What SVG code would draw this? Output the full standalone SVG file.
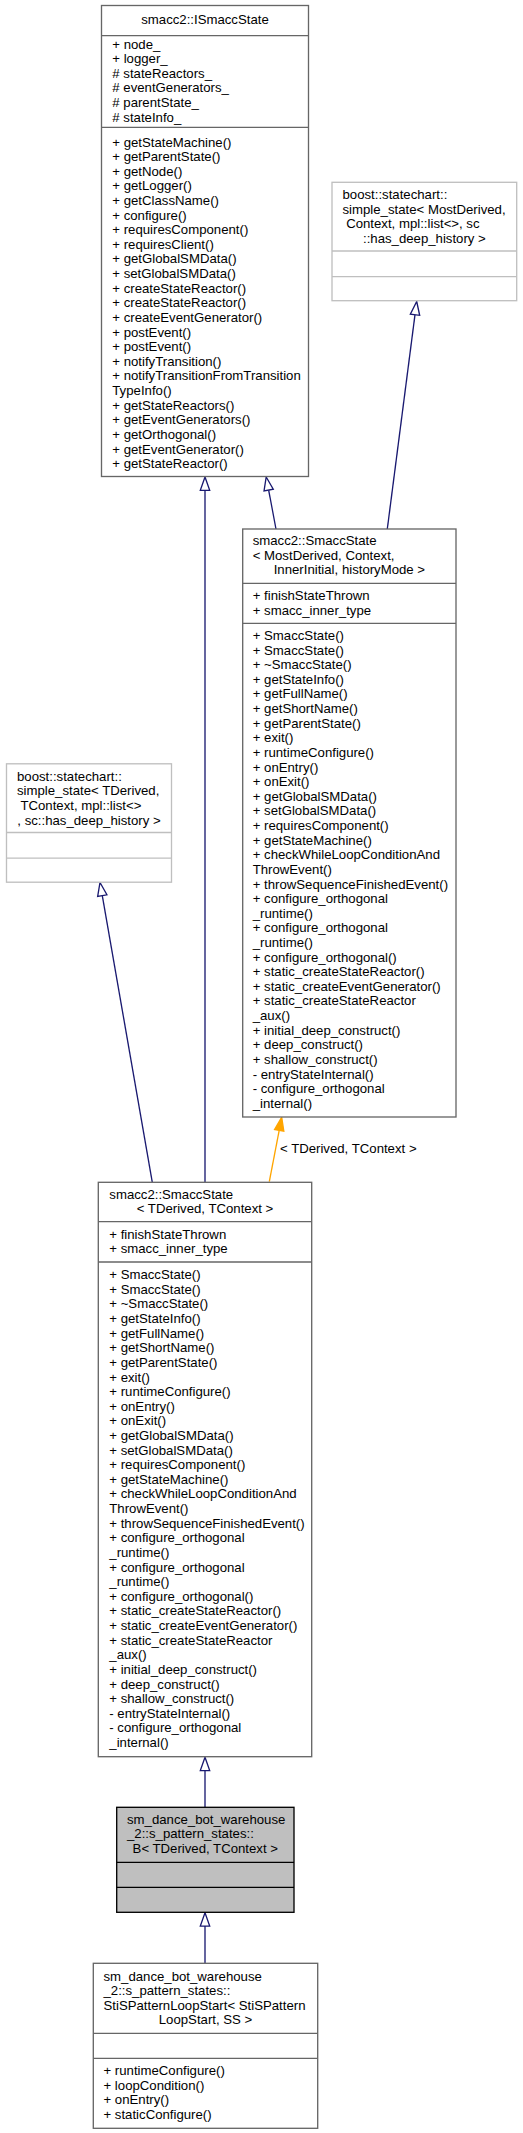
<svg xmlns="http://www.w3.org/2000/svg" width="523" height="2133" viewBox="0 0 523 2133">
<style>
.bx{fill:#ffffff;stroke:#666666;stroke-width:1.33}
.bs{stroke:#666666;stroke-width:1.33}
.ex{fill:#ffffff;stroke:#bfbfbf;stroke-width:1.33}
.es{stroke:#bfbfbf;stroke-width:1.33}
.cur{fill:#bfbfbf;stroke:#000000;stroke-width:1.33}
.cs{stroke:#000000;stroke-width:1.33}
text{font-family:"Liberation Sans",Arial,sans-serif;font-size:13.2px;fill:#000000}
.c{text-anchor:middle}
.e{stroke:#191970;stroke-width:1.33;fill:none}
.h{stroke:#191970;stroke-width:1.33;fill:#ffffff}
.eo{stroke:#ffa500;stroke-width:1.33;fill:none}
.ho{stroke:#ffa500;stroke-width:1.33;fill:#ffa500}
</style>
<g id="connectors">
<line class="e" x1="276" y1="529" x2="268.66" y2="490.07"/>
<polygon class="h" points="266.2,477 273.28,489.2 264.04,490.94"/>
<line class="e" x1="387.3" y1="529" x2="415" y2="314.7"/>
<polygon class="h" points="416.7,301.5 419.66,315.3 410.34,314.1"/>
<line class="e" x1="205" y1="1182.3" x2="205" y2="490.3"/>
<polygon class="h" points="205,477 209.7,490.3 200.3,490.3"/>
<line class="e" x1="152.3" y1="1182.3" x2="102.29" y2="895.6"/>
<polygon class="h" points="100,882.5 106.92,894.79 97.66,896.41"/>
<line class="eo" x1="269.3" y1="1181.7" x2="279.19" y2="1130.36"/>
<polygon class="ho" points="281.7,1117.3 283.81,1131.25 274.57,1129.47"/>
<text x="280" y="1153">&lt; TDerived, TContext &gt;</text>
<line class="e" x1="205" y1="1807.3" x2="205" y2="1770.6"/>
<polygon class="h" points="205,1757.3 209.7,1770.6 200.3,1770.6"/>
<line class="e" x1="205" y1="1963.3" x2="205" y2="1926.1"/>
<polygon class="h" points="205,1912.8 209.7,1926.1 200.3,1926.1"/>
</g>
<g id="ISmaccState">
<rect class="bx" x="101.5" y="5.5" width="207" height="471"/>
<line class="bs" x1="101.5" y1="35.7" x2="308.5" y2="35.7"/>
<line class="bs" x1="101.5" y1="127.3" x2="308.5" y2="127.3"/>
<text class="c" x="205" y="24">smacc2::ISmaccState</text>
<text x="112.3" y="48.5"><tspan x="112.3">+ node_</tspan><tspan x="112.3" dy="14.62">+ logger_</tspan><tspan x="112.3" dy="14.62"># stateReactors_</tspan><tspan x="112.3" dy="14.62"># eventGenerators_</tspan><tspan x="112.3" dy="14.62"># parentState_</tspan><tspan x="112.3" dy="14.62"># stateInfo_</tspan></text>
<text x="112.3" y="146.5"><tspan x="112.3">+ getStateMachine()</tspan><tspan x="112.3" dy="14.62">+ getParentState()</tspan><tspan x="112.3" dy="14.62">+ getNode()</tspan><tspan x="112.3" dy="14.62">+ getLogger()</tspan><tspan x="112.3" dy="14.62">+ getClassName()</tspan><tspan x="112.3" dy="14.62">+ configure()</tspan><tspan x="112.3" dy="14.62">+ requiresComponent()</tspan><tspan x="112.3" dy="14.62">+ requiresClient()</tspan><tspan x="112.3" dy="14.62">+ getGlobalSMData()</tspan><tspan x="112.3" dy="14.62">+ setGlobalSMData()</tspan><tspan x="112.3" dy="14.62">+ createStateReactor()</tspan><tspan x="112.3" dy="14.62">+ createStateReactor()</tspan><tspan x="112.3" dy="14.62">+ createEventGenerator()</tspan><tspan x="112.3" dy="14.62">+ postEvent()</tspan><tspan x="112.3" dy="14.62">+ postEvent()</tspan><tspan x="112.3" dy="14.62">+ notifyTransition()</tspan><tspan x="112.3" dy="14.62">+ notifyTransitionFromTransition</tspan><tspan x="112.3" dy="14.62">TypeInfo()</tspan><tspan x="112.3" dy="14.62">+ getStateReactors()</tspan><tspan x="112.3" dy="14.62">+ getEventGenerators()</tspan><tspan x="112.3" dy="14.62">+ getOrthogonal()</tspan><tspan x="112.3" dy="14.62">+ getEventGenerator()</tspan><tspan x="112.3" dy="14.62">+ getStateReactor()</tspan></text>
</g>
<g id="simple_state_MostDerived">
<rect class="ex" x="332" y="182.3" width="184.7" height="118.4"/>
<line class="es" x1="332" y1="251" x2="516.7" y2="251"/>
<line class="es" x1="332" y1="276.7" x2="516.7" y2="276.7"/>
<text x="342.5" y="199.2"><tspan x="342.5">boost::statechart::</tspan><tspan x="342.5" dy="14.62">simple_state&lt; MostDerived,</tspan><tspan x="342.5" dy="14.62"> Context, mpl::list&lt;&gt;, sc</tspan></text>
<text class="c" x="424.4" y="243">::has_deep_history &gt;</text>
</g>
<g id="SmaccState_MostDerived">
<rect class="bx" x="242.7" y="529" width="213.3" height="588"/>
<line class="bs" x1="242.7" y1="583.3" x2="456" y2="583.3"/>
<line class="bs" x1="242.7" y1="623.3" x2="456" y2="623.3"/>
<text x="252.7" y="545"><tspan x="252.7">smacc2::SmaccState</tspan><tspan x="252.7" dy="14.62">&lt; MostDerived, Context,</tspan></text>
<text class="c" x="349.4" y="574.2">InnerInitial, historyMode &gt;</text>
<text x="252.7" y="600.3"><tspan x="252.7">+ finishStateThrown</tspan><tspan x="252.7" dy="14.62">+ smacc_inner_type</tspan></text>
<text x="252.7" y="640"><tspan x="252.7">+ SmaccState()</tspan><tspan x="252.7" dy="14.62">+ SmaccState()</tspan><tspan x="252.7" dy="14.62">+ ~SmaccState()</tspan><tspan x="252.7" dy="14.62">+ getStateInfo()</tspan><tspan x="252.7" dy="14.62">+ getFullName()</tspan><tspan x="252.7" dy="14.62">+ getShortName()</tspan><tspan x="252.7" dy="14.62">+ getParentState()</tspan><tspan x="252.7" dy="14.62">+ exit()</tspan><tspan x="252.7" dy="14.62">+ runtimeConfigure()</tspan><tspan x="252.7" dy="14.62">+ onEntry()</tspan><tspan x="252.7" dy="14.62">+ onExit()</tspan><tspan x="252.7" dy="14.62">+ getGlobalSMData()</tspan><tspan x="252.7" dy="14.62">+ setGlobalSMData()</tspan><tspan x="252.7" dy="14.62">+ requiresComponent()</tspan><tspan x="252.7" dy="14.62">+ getStateMachine()</tspan><tspan x="252.7" dy="14.62">+ checkWhileLoopConditionAnd</tspan><tspan x="252.7" dy="14.62">ThrowEvent()</tspan><tspan x="252.7" dy="14.62">+ throwSequenceFinishedEvent()</tspan><tspan x="252.7" dy="14.62">+ configure_orthogonal</tspan><tspan x="252.7" dy="14.62">_runtime()</tspan><tspan x="252.7" dy="14.62">+ configure_orthogonal</tspan><tspan x="252.7" dy="14.62">_runtime()</tspan><tspan x="252.7" dy="14.62">+ configure_orthogonal()</tspan><tspan x="252.7" dy="14.62">+ static_createStateReactor()</tspan><tspan x="252.7" dy="14.62">+ static_createEventGenerator()</tspan><tspan x="252.7" dy="14.62">+ static_createStateReactor</tspan><tspan x="252.7" dy="14.62">_aux()</tspan><tspan x="252.7" dy="14.62">+ initial_deep_construct()</tspan><tspan x="252.7" dy="14.62">+ deep_construct()</tspan><tspan x="252.7" dy="14.62">+ shallow_construct()</tspan><tspan x="252.7" dy="14.62">- entryStateInternal()</tspan><tspan x="252.7" dy="14.62">- configure_orthogonal</tspan><tspan x="252.7" dy="14.62">_internal()</tspan></text>
</g>
<g id="simple_state_TDerived">
<rect class="ex" x="6.5" y="763.8" width="165" height="118.4"/>
<line class="es" x1="6.5" y1="832.5" x2="171.5" y2="832.5"/>
<line class="es" x1="6.5" y1="858.2" x2="171.5" y2="858.2"/>
<text x="17" y="780.7"><tspan x="17">boost::statechart::</tspan><tspan x="17" dy="14.62">simple_state&lt; TDerived,</tspan><tspan x="17" dy="14.62"> TContext, mpl::list&lt;&gt;</tspan></text>
<text class="c" x="89" y="824.5">, sc::has_deep_history &gt;</text>
</g>
<g id="SmaccState_TDerived">
<rect class="bx" x="98.3" y="1182.3" width="213.4" height="574.4"/>
<line class="bs" x1="98.3" y1="1221.7" x2="311.7" y2="1221.7"/>
<line class="bs" x1="98.3" y1="1262" x2="311.7" y2="1262"/>
<text x="109.3" y="1198.5">smacc2::SmaccState</text>
<text class="c" x="205" y="1213">&lt; TDerived, TContext &gt;</text>
<text x="109.3" y="1238.5"><tspan x="109.3">+ finishStateThrown</tspan><tspan x="109.3" dy="14.62">+ smacc_inner_type</tspan></text>
<text x="109.3" y="1279.2"><tspan x="109.3">+ SmaccState()</tspan><tspan x="109.3" dy="14.62">+ SmaccState()</tspan><tspan x="109.3" dy="14.62">+ ~SmaccState()</tspan><tspan x="109.3" dy="14.62">+ getStateInfo()</tspan><tspan x="109.3" dy="14.62">+ getFullName()</tspan><tspan x="109.3" dy="14.62">+ getShortName()</tspan><tspan x="109.3" dy="14.62">+ getParentState()</tspan><tspan x="109.3" dy="14.62">+ exit()</tspan><tspan x="109.3" dy="14.62">+ runtimeConfigure()</tspan><tspan x="109.3" dy="14.62">+ onEntry()</tspan><tspan x="109.3" dy="14.62">+ onExit()</tspan><tspan x="109.3" dy="14.62">+ getGlobalSMData()</tspan><tspan x="109.3" dy="14.62">+ setGlobalSMData()</tspan><tspan x="109.3" dy="14.62">+ requiresComponent()</tspan><tspan x="109.3" dy="14.62">+ getStateMachine()</tspan><tspan x="109.3" dy="14.62">+ checkWhileLoopConditionAnd</tspan><tspan x="109.3" dy="14.62">ThrowEvent()</tspan><tspan x="109.3" dy="14.62">+ throwSequenceFinishedEvent()</tspan><tspan x="109.3" dy="14.62">+ configure_orthogonal</tspan><tspan x="109.3" dy="14.62">_runtime()</tspan><tspan x="109.3" dy="14.62">+ configure_orthogonal</tspan><tspan x="109.3" dy="14.62">_runtime()</tspan><tspan x="109.3" dy="14.62">+ configure_orthogonal()</tspan><tspan x="109.3" dy="14.62">+ static_createStateReactor()</tspan><tspan x="109.3" dy="14.62">+ static_createEventGenerator()</tspan><tspan x="109.3" dy="14.62">+ static_createStateReactor</tspan><tspan x="109.3" dy="14.62">_aux()</tspan><tspan x="109.3" dy="14.62">+ initial_deep_construct()</tspan><tspan x="109.3" dy="14.62">+ deep_construct()</tspan><tspan x="109.3" dy="14.62">+ shallow_construct()</tspan><tspan x="109.3" dy="14.62">- entryStateInternal()</tspan><tspan x="109.3" dy="14.62">- configure_orthogonal</tspan><tspan x="109.3" dy="14.62">_internal()</tspan></text>
</g>
<g id="B">
<rect class="cur" x="116.7" y="1807.3" width="177.3" height="105"/>
<line class="cs" x1="116.7" y1="1862.3" x2="294" y2="1862.3"/>
<line class="cs" x1="116.7" y1="1887.3" x2="294" y2="1887.3"/>
<text x="127" y="1823.5"><tspan x="127">sm_dance_bot_warehouse</tspan><tspan x="127" dy="14.62">_2::s_pattern_states::</tspan></text>
<text class="c" x="205.3" y="1852.7">B&lt; TDerived, TContext &gt;</text>
</g>
<g id="StiSPatternLoopStart">
<rect class="bx" x="93.3" y="1963.3" width="224.4" height="165"/>
<line class="bs" x1="93.3" y1="2033.3" x2="317.7" y2="2033.3"/>
<line class="bs" x1="93.3" y1="2058.3" x2="317.7" y2="2058.3"/>
<text x="103.5" y="1980.5"><tspan x="103.5">sm_dance_bot_warehouse</tspan><tspan x="103.5" dy="14.62">_2::s_pattern_states::</tspan><tspan x="103.5" dy="14.62">StiSPatternLoopStart&lt; StiSPattern</tspan></text>
<text class="c" x="205.5" y="2024.4">LoopStart, SS &gt;</text>
<text x="103.5" y="2075"><tspan x="103.5">+ runtimeConfigure()</tspan><tspan x="103.5" dy="14.62">+ loopCondition()</tspan><tspan x="103.5" dy="14.62">+ onEntry()</tspan><tspan x="103.5" dy="14.62">+ staticConfigure()</tspan></text>
</g>
</svg>
